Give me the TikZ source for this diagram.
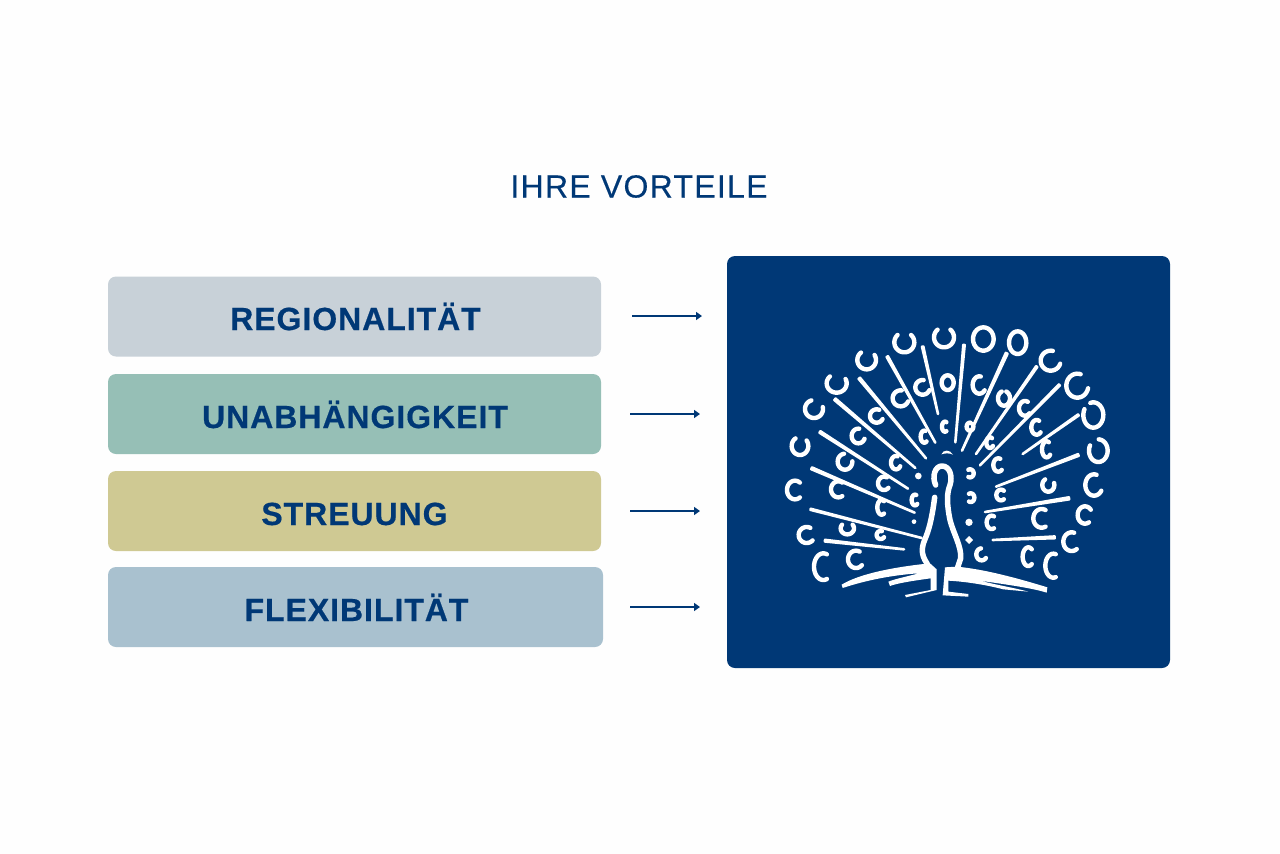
\documentclass[tikz,border=0pt]{standalone}
\usepackage{fontspec}
\setmainfont{Liberation Sans}
\newfontfamily\labelfont[LetterSpace=3,BoldFeatures={FakeBold=0.5}]{Liberation Sans}
\newfontfamily\titlefont[LetterSpace=4,FakeBold=0.3]{Liberation Sans}
\usetikzlibrary{calc,arrows.meta}
\definecolor{navy}{HTML}{003876}
\definecolor{cgrey}{HTML}{C8D1D8}
\definecolor{cteal}{HTML}{96BFB6}
\definecolor{colive}{HTML}{CFC993}
\definecolor{cblue}{HTML}{A9C1CF}
\tikzset{
 band/.style={rounded corners=8pt,inner sep=0pt,minimum height=80pt},
 bandtext/.style={text=navy,anchor=base,inner sep=0pt,font=\labelfont\bfseries\fontsize{32}{32}\selectfont},
 pointer/.style={navy,line width=2pt,-{Triangle[length=6pt,width=8pt]}},
 plume/.style={white,line width=4.4pt,line cap=round,line join=round},
 quill/.style={white,fill=white,line width=2.6pt,line join=round},
 figure/.style={white,line width=5.5pt,line cap=round,line join=round},
 solid white/.style={white,fill=white,line width=3pt,line join=round},
}
\newcommand{\eye}[6]{\pgfmathsetmacro\gapw{(#6>0)*(#6+35)}\draw[plume] plot[variable=\t,samples=28,domain={(#5)+\gapw/2}:{(#5)+360-\gapw/2}] ({#1+#3*cos(\t)},{#2-#4*sin(\t)});}
\newcommand{\barb}[5]{\coordinate (oo) at (#1,#2);\coordinate (ii) at (#3,#4);\draw[quill] ($(oo)!#5pt!90:(ii)$) -- ($(oo)!#5pt!-90:(ii)$) -- (ii) -- cycle;}
\begin{document}
\begin{tikzpicture}[x=1pt,y=1pt,yscale=-1]
\useasboundingbox (0,0) rectangle (1280,854);
\fill[white!99.5!black] (0,0) rectangle (1280,854);
\node[text=navy,anchor=base,inner sep=0pt,font=\titlefont\fontsize{32}{32}\selectfont] (title) at (639,197.5) {IHRE VORTEILE};
\node[band,fill=cgrey,minimum width=493pt] (b1) at (354.5,316.5) {};
\node[band,fill=cteal,minimum width=493pt] (b2) at (354.5,414) {};
\node[band,fill=colive,minimum width=493pt] (b3) at (354.5,511) {};
\node[band,fill=cblue,minimum width=495pt] (b4) at (355.5,607) {};
\node[bandtext] (t1) at (355.5,330) {REGIONALITÄT};
\node[bandtext] (t2) at (355,428) {UNABHÄNGIGKEIT};
\node[bandtext] (t3) at (354.5,525) {STREUUNG};
\node[bandtext] (t4) at (356.5,621) {FLEXIBILITÄT};
\node[fill=navy,rounded corners=8pt,inner sep=0pt,minimum width=443pt,minimum height=412pt] (panel) at (948.5,462) {};
\coordinate (s1) at (632,316);\coordinate (e1) at (702,316);
\coordinate (s2) at (630,414);\coordinate (e2) at (700,414);
\coordinate (s3) at (630,511);\coordinate (e3) at (700,511);
\coordinate (s4) at (630,607);\coordinate (e4) at (700,607);
\draw[pointer] (s1) -- (e1);
\draw[pointer] (s2) -- (e2);
\draw[pointer] (s3) -- (e3);
\draw[pointer] (s4) -- (e4);
\begin{scope}[shift={(770,310)},scale=0.33333]
\barb{122}{598}{455}{684}{1.6}
\barb{165}{692}{402}{718}{2.4}
\barb{125}{475}{434}{608}{2.8}
\barb{150}{366}{414}{536}{2.6}
\barb{195}{268}{436}{474}{2.8}
\barb{268}{205}{468}{445}{2.6}
\barb{352}{140}{496}{398}{2.2}
\barb{458}{110}{504}{312}{2}
\barb{582}{105}{556}{397}{2}
\barb{710}{130}{576}{422}{2.8}
\barb{800}{170}{618}{432}{2}
\barb{868}{225}{630}{466}{2}
\barb{925}{315}{758}{432}{1.8}
\barb{925}{435}{678}{530}{2.6}
\barb{897}{565}{645}{606}{3}
\barb{854}{682}{668}{690}{2.6}
\eye{160}{770}{28}{40}{0}{100}
\eye{110}{675}{24}{24}{10}{70}
\eye{75}{540}{24}{28}{0}{70}
\eye{90}{408}{25}{27}{80}{50}
\eye{132}{297}{27}{27}{60}{60}
\eye{200}{220}{30}{28}{80}{70}
\eye{290}{150}{28}{28}{80}{60}
\eye{403}{97}{30}{30}{90}{50}
\eye{522}{82}{30}{30}{90}{45}
\eye{640}{87}{31}{35}{90}{0}
\eye{743}{98}{26}{34}{90}{0}
\eye{842}{152}{30}{30}{30}{60}
\eye{922}{227}{33}{36}{30}{50}
\eye{970}{315}{30}{38}{130}{10}
\eye{985}{422}{28}{34}{120}{30}
\eye{972}{525}{26}{32}{20}{70}
\eye{945}{615}{22}{26}{-10}{60}
\eye{905}{695}{25}{28}{10}{90}
\eye{850}{767}{24}{36}{0}{110}
\eye{775}{740}{17}{28}{0}{70}
\eye{258}{748}{24}{26}{10}{70}
\eye{232}{655}{20}{18}{90}{70}
\eye{332}{675}{12}{12}{20}{70}
\eye{205}{538}{22}{24}{0}{80}
\eye{335}{592}{13}{22}{0}{80}
\eye{225}{455}{22}{24}{50}{60}
\eye{342}{520}{18}{20}{10}{70}
\eye{265}{378}{20}{22}{30}{70}
\eye{378}{458}{15}{20}{20}{70}
\eye{320}{318}{20}{20}{20}{60}
\eye{392}{265}{24}{24}{30}{70}
\eye{458}{232}{22}{22}{30}{70}
\eye{533}{218}{18}{22}{90}{0}
\eye{628}{225}{20}{26}{20}{80}
\eye{702}{265}{18}{22}{90}{10}
\eye{765}{295}{18}{22}{10}{70}
\eye{800}{352}{16}{22}{10}{70}
\eye{830}{418}{14}{24}{10}{70}
\eye{685}{465}{15}{20}{10}{80}
\eye{835}{525}{18}{20}{70}{70}
\eye{693}{555}{14}{16}{0}{70}
\eye{815}{625}{25}{28}{0}{90}
\eye{665}{637}{15}{20}{0}{90}
\eye{635}{733}{16}{18}{30}{100}
\eye{463}{380}{11}{18}{10}{90}
\eye{525}{350}{9}{15}{0}{90}
\eye{600}{350}{10}{12}{60}{10}
\eye{660}{398}{11}{16}{10}{60}
\eye{435}{570}{10}{16}{10}{80}
\eye{600}{490}{11}{12}{180}{90}
\eye{602}{563}{11}{13}{180}{90}
\fill[white] (445,498) circle[radius=10pt];
\fill[white] (432,635) circle[radius=7pt];
\fill[white] (597,637) circle[radius=11pt];
\fill[white] (597,678) -- (609,690) -- (597,702) -- (585,690) -- cycle;
\fill[solid white] (514,433) .. controls (520,418) and (540,418) .. (549,434) .. controls (540,429) and (525,429) .. (514,433) -- cycle;
\draw[figure] (497,525) .. controls (485,500) and (495,468) .. (516,468) .. controls (540,468) and (548,500) .. (540,525) .. controls (530,550) and (530,580) .. (540,630) .. controls (550,670) and (575,710) .. (572,745) -- (562,775);
\draw[figure] (494,562) .. controls (488,610) and (480,650) .. (468,680) .. controls (455,710) and (450,730) .. (472,762);
\fill[solid white] (215,824) .. controls (270,790) and (380,770) .. (480,760) -- (500,778) -- (500,840) -- (408,862) -- (405,855) -- (482,840) -- (482,805) .. controls (430,812) and (380,820) .. (360,828) -- (355,815) .. controls (380,805) and (420,798) .. (445,790) .. controls (370,795) and (290,810) .. (218,834) -- cycle;
\fill[solid white] (525,772) -- (560,770) .. controls (650,778) and (760,810) .. (832,832) -- (830,848) .. controls (790,835) and (720,825) .. (630,812) .. controls (680,825) and (740,835) .. (775,845) -- (700,838) .. controls (650,825) and (590,815) .. (535,812) -- (535,845) -- (595,852) -- (595,860) -- (518,856) -- cycle;
\end{scope}
\end{tikzpicture}
\end{document}
